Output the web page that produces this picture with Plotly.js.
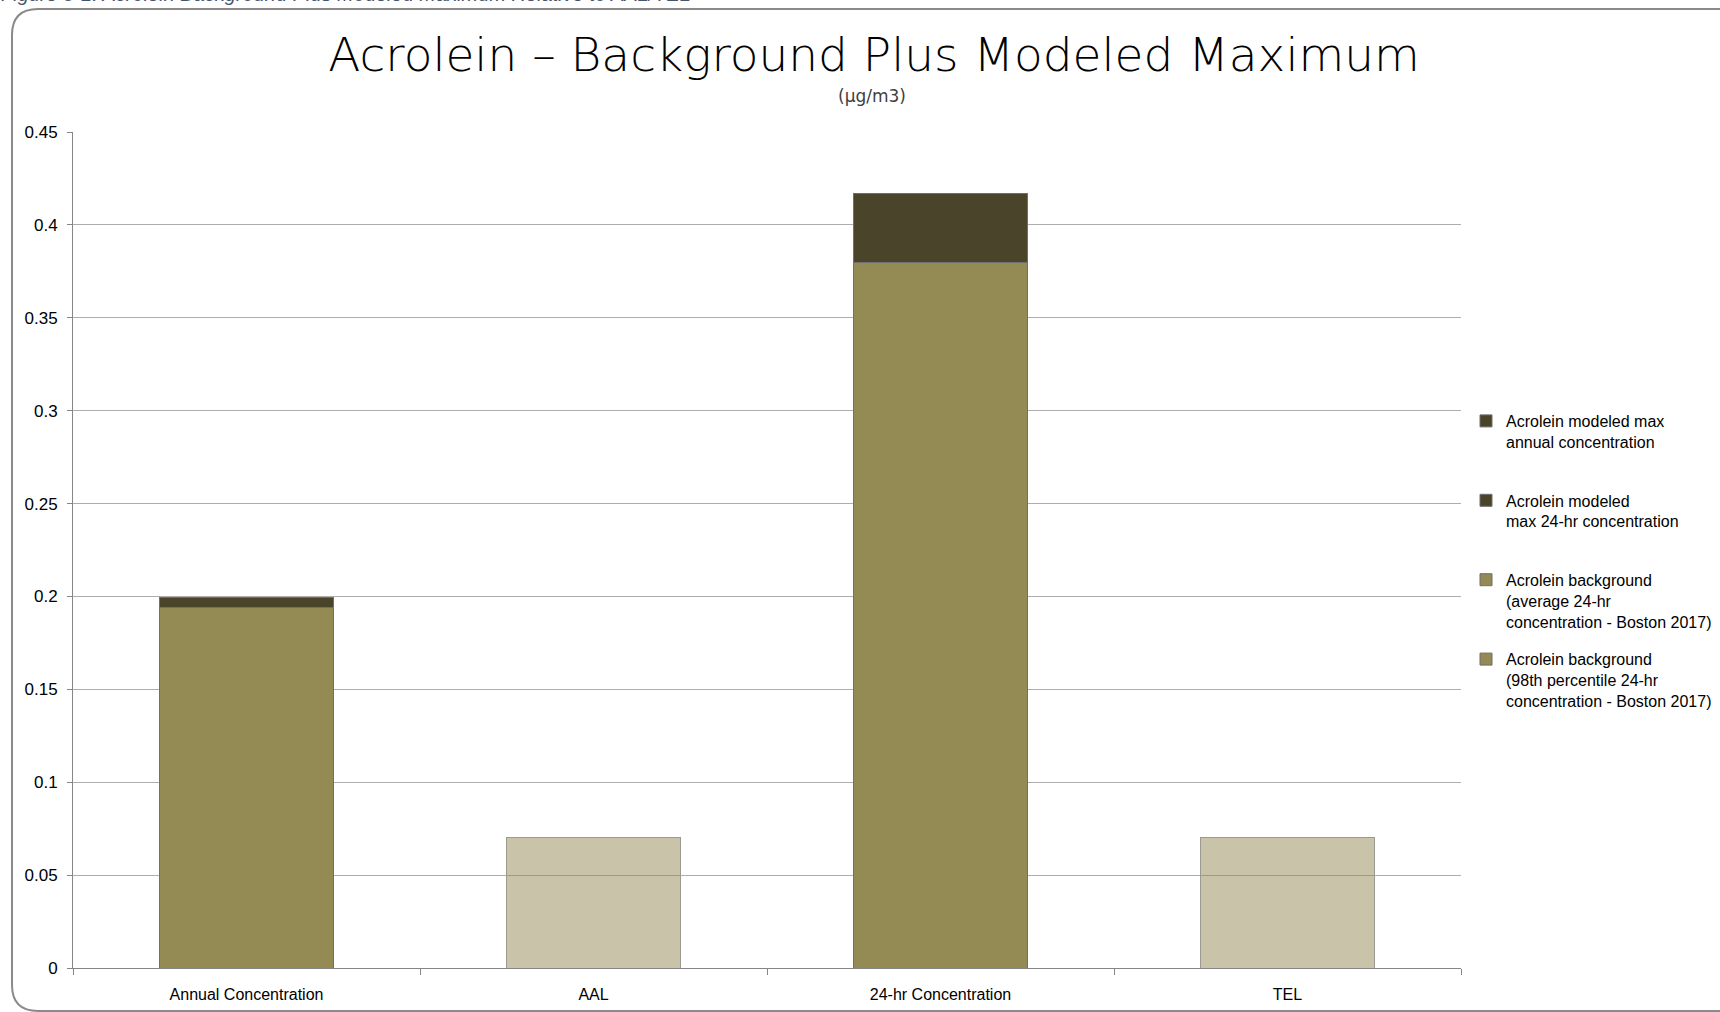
<!DOCTYPE html>
<html>
<head>
<meta charset="utf-8">
<script src="https://cdn.plot.ly/plotly-3.0.1.min.js"></script>
<style>
  html, body { margin: 0; padding: 0; background: #ffffff; }
  #chart { width: 1720px; height: 1012px; }
</style>
</head>
<body>
<div id="chart"></div>
<script>
// ---- data ----
const categories = ['Annual Concentration', 'AAL', '24-hr Concentration', 'TEL'];
const bgAverage = [0.194, null, null, null];      // Acrolein background (average 24-hr, Boston 2017)
const bg98th = [null, null, 0.38, null];           // Acrolein background (98th percentile 24-hr, Boston 2017)
const modeledAnnual = [0.0055, null, null, null];  // modeled max annual concentration
const modeled24hr = [null, null, 0.037, null];     // modeled max 24-hr concentration
const limits = [null, 0.07, null, 0.07];           // AAL / TEL
const yTickVals = [0, 0.05, 0.1, 0.15, 0.2, 0.25, 0.3, 0.35, 0.4, 0.45];
const yTickLabels = ['0', '0.05', '0.1', '0.15', '0.2', '0.25', '0.3', '0.35', '0.4', '0.45'];

const seriesNames = {
  modeledAnnual: 'Acrolein modeled max<br>annual concentration<br> ',
  modeled24hr: 'Acrolein modeled<br>max 24-hr concentration<br> ',
  bgAverage: 'Acrolein background<br>(average 24-hr<br>concentration - Boston 2017)',
  bg98th: 'Acrolein background<br>(98th percentile 24-hr<br>concentration - Boston 2017)'
};

// ---- geometry helpers (pixels -> paper) ----
const W = 1720, H = 1012;
const M = { l: 73, r: W - 1461, t: 132, b: H - 968, autoexpand: false };
const PW = W - M.l - M.r, PH = H - M.t - M.b;
const px = x => (x - M.l) / PW;
const py = y => (H - M.b - y) / PH;

const olive = '#948A54';
const dark = '#4A452A';
const outline = '#6F6F6F';
const tickFont = { family: 'Liberation Sans, Arial, sans-serif', size: 16, color: '#000000' };
const titleFamily = 'DejaVu Sans, sans-serif';

const traces = [
  { type: 'bar', x: categories, y: bgAverage, name: seriesNames.bgAverage,
    marker: { color: olive, line: { color: outline, width: 1 } },
    legendrank: 3, legendgroup: 'g3' },
  { type: 'bar', x: categories, y: bg98th, name: seriesNames.bg98th,
    marker: { color: olive, line: { color: outline, width: 1 } },
    legendrank: 4, legendgroup: 'g4' },
  { type: 'bar', x: categories, y: modeledAnnual, name: seriesNames.modeledAnnual,
    marker: { color: dark, line: { color: outline, width: 1 } },
    legendrank: 1, legendgroup: 'g1' },
  { type: 'bar', x: categories, y: modeled24hr, name: seriesNames.modeled24hr,
    marker: { color: dark, line: { color: outline, width: 1 } },
    legendrank: 2, legendgroup: 'g2' },
  { type: 'bar', x: categories, y: limits, name: 'AAL / TEL', showlegend: false,
    marker: { color: 'rgba(148,138,84,0.5)', line: { color: '#9A9A90', width: 1 } } }
];

// rounded frame around chart
const fx0 = 12, fy0 = 9, fx1 = 1735, fy1 = 1011, rad = 26;
const framePath =
  'M ' + px(fx1) + ',' + py(fy0) +
  ' L ' + px(fx0 + rad) + ',' + py(fy0) +
  ' Q ' + px(fx0) + ',' + py(fy0) + ' ' + px(fx0) + ',' + py(fy0 + rad) +
  ' L ' + px(fx0) + ',' + py(fy1 - rad) +
  ' Q ' + px(fx0) + ',' + py(fy1) + ' ' + px(fx0 + rad) + ',' + py(fy1) +
  ' L ' + px(fx1) + ',' + py(fy1);

const layout = {
  width: W, height: H,
  margin: M,
  paper_bgcolor: '#ffffff',
  plot_bgcolor: '#ffffff',
  barmode: 'stack',
  bargap: 0.5,
  title: {
    text: 'Acrolein – Background Plus Modeled Maximum',
    font: { family: titleFamily, size: 47, weight: 200, color: '#000000' },
    x: 874 / W, xref: 'container', xanchor: 'center',
    y: 1 - 55 / H, yref: 'container', yanchor: 'middle'
  },
  xaxis: {
    type: 'category',
    showgrid: false,
    showline: true, linecolor: '#868686', linewidth: 1,
    ticks: 'outside', tickson: 'boundaries', ticklen: 6, tickcolor: '#868686',
    tickfont: tickFont,
    ticklabelstandoff: 12,
    zeroline: false
  },
  yaxis: {
    range: [0, 0.45],
    tickvals: yTickVals, ticktext: yTickLabels,
    showgrid: true, gridcolor: '#ADADAD', gridwidth: 1,
    showline: true, linecolor: '#868686', linewidth: 1,
    ticks: 'outside', ticklen: 5, tickcolor: '#868686',
    tickfont: { family: 'Liberation Sans, Arial, sans-serif', size: 17, color: '#000000' },
    ticklabelstandoff: 6,
    zeroline: false
  },
  legend: {
    x: px(1466), xanchor: 'left',
    y: py(404), yanchor: 'top',
    font: { family: 'Liberation Sans, Arial, sans-serif', size: 16, color: '#000000' },
    traceorder: 'grouped',
    tracegroupgap: 14,
    valign: 'top',
    bgcolor: 'rgba(0,0,0,0)'
  },
  annotations: [
    { text: '(µg/m3)', xref: 'paper', yref: 'paper', x: px(872), y: py(96),
      xanchor: 'center', yanchor: 'middle', showarrow: false,
      font: { family: titleFamily, size: 17, color: '#404040' } },
    { text: '<i>Figure 5-1: Acrolein Background Plus Modeled Maximum Relative to AAL/TEL</i>',
      xref: 'paper', yref: 'paper', x: px(-1), y: py(-6),
      xanchor: 'left', yanchor: 'middle', showarrow: false,
      font: { family: 'Liberation Sans, Arial, sans-serif', size: 20, color: '#44546A' } }
  ],
  shapes: [
    { type: 'path', xref: 'paper', yref: 'paper', path: framePath,
      line: { color: '#8A8A8A', width: 2 }, layer: 'below' }
  ]
};

Plotly.newPlot('chart', traces, layout, { displayModeBar: false, staticPlot: true });
</script>
</body>
</html>
